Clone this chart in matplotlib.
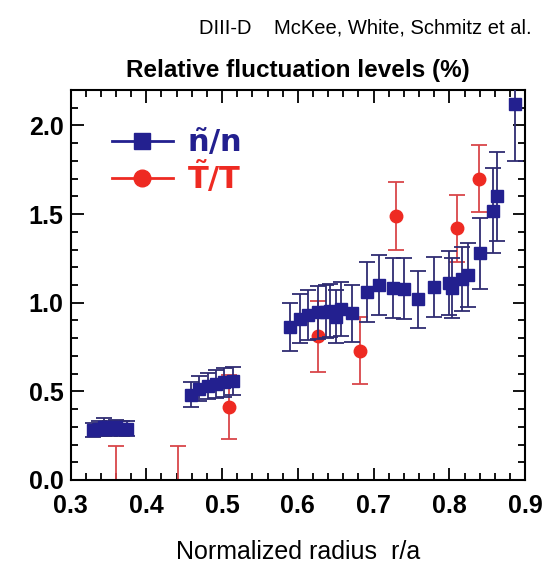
import matplotlib.pyplot as plt
import numpy as np
from matplotlib.ticker import MultipleLocator

plt.rcParams['font.family'] = ['Liberation Sans', 'DejaVu Sans']
plt.rcParams['mathtext.fontset'] = 'dejavusans'

# density fluctuation levels (blue squares)
r_n = [0.330, 0.337, 0.344, 0.352, 0.360, 0.368, 0.375,
       0.459, 0.470, 0.482, 0.492, 0.503, 0.514,
       0.589, 0.603, 0.613, 0.626, 0.637, 0.643, 0.650, 0.657, 0.672,
       0.691, 0.707, 0.725, 0.740, 0.758, 0.780, 0.799, 0.804, 0.817,
       0.824, 0.840, 0.858, 0.863, 0.886]
n_val = [0.28, 0.29, 0.30, 0.29, 0.30, 0.29, 0.29,
         0.48, 0.515, 0.53, 0.54, 0.55, 0.56,
         0.865, 0.91, 0.93, 0.945, 0.95, 0.955, 0.92, 0.965, 0.94,
         1.06, 1.10, 1.085, 1.08, 1.02, 1.09, 1.11, 1.085, 1.135,
         1.155, 1.28, 1.52, 1.60, 2.12]
n_err = [0.04, 0.04, 0.05, 0.04, 0.04, 0.04, 0.04,
         0.07, 0.07, 0.075, 0.08, 0.08, 0.08,
         0.135, 0.14, 0.14, 0.15, 0.15, 0.15, 0.15, 0.15, 0.16,
         0.17, 0.17, 0.17, 0.17, 0.16, 0.17, 0.18, 0.17, 0.18,
         0.18, 0.20, 0.24, 0.25, 0.32]

# temperature fluctuation levels (red circles)
r_t = [0.360, 0.442, 0.509, 0.626, 0.682, 0.730, 0.810, 0.839]
t_val = [-0.06, -0.06, 0.41, 0.81, 0.73, 1.49, 1.42, 1.70]
t_err = [0.25, 0.25, 0.18, 0.20, 0.19, 0.19, 0.19, 0.19]

blue = '#23208f'
blue_bar = '#2f2c72'
red = '#ee2a22'
red_bar = '#d9464a'

fig = plt.figure(figsize=(5.47, 5.66), dpi=100)
ax = fig.add_axes([0.129, 0.152, 0.831, 0.689])

ax.errorbar(r_n, n_val, yerr=n_err, fmt='s', color=blue, ecolor=blue_bar,
            markersize=9, capsize=6, elinewidth=1.3, capthick=1.3, zorder=3)
ax.errorbar(r_t, t_val, yerr=t_err, fmt='o', color=red, ecolor=red_bar,
            markersize=9, capsize=6, elinewidth=1.3, capthick=1.3, zorder=2)

# legend handles
ax.plot([], [], '-s', color=blue, markersize=12, linewidth=2, label=r'$\mathbf{\tilde{n}/n}$')
ax.plot([], [], '-o', color=red, markersize=12, linewidth=2, label=r'$\mathbf{\tilde{T}/T}$')
leg = ax.legend(loc='upper left', bbox_to_anchor=(0.03, 0.975), frameon=False,
                fontsize=22, handlelength=2.0, handletextpad=0.45, labelspacing=0.0)
for txt, c in zip(leg.get_texts(), [blue, red]):
    txt.set_color(c)

ax.set_xlim(0.3, 0.9)
ax.set_ylim(0.0, 2.2)
ax.xaxis.set_major_locator(MultipleLocator(0.1))
ax.xaxis.set_minor_locator(MultipleLocator(0.02))
ax.yaxis.set_major_locator(MultipleLocator(0.5))
ax.yaxis.set_minor_locator(MultipleLocator(0.1))
ax.tick_params(which='both', direction='in', top=True, right=True, width=1.3)
ax.tick_params(which='major', length=9, labelsize=18)
ax.tick_params(axis='x', which='major', pad=10)
ax.tick_params(axis='y', which='major', pad=5)
ax.tick_params(which='minor', length=5)
for lab in ax.get_xticklabels() + ax.get_yticklabels():
    lab.set_fontweight('bold')
for s in ax.spines.values():
    s.set_linewidth(1.5)

ax.set_xlabel('Normalized radius  r/a', fontsize=18, labelpad=16)
ax.set_title('Relative fluctuation levels (%)', fontsize=17.5, fontweight='bold', pad=9)
fig.text(0.667, 0.95, 'DIII-D    McKee, White, Schmitz et al.', fontsize=14.5,
         ha='center', va='center')

fig.savefig('out.png', dpi=100)
